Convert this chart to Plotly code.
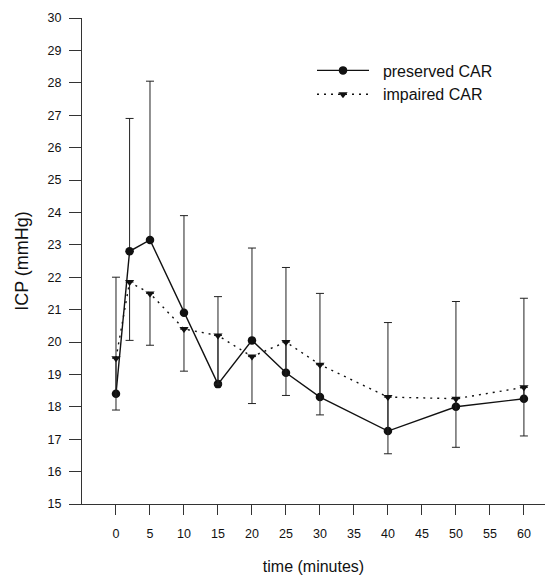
import plotly.graph_objects as go

# ICP over time for the two autoregulation groups
time_min = [0, 2, 5, 10, 15, 20, 25, 30, 40, 50, 60]

preserved_mean = [18.4, 22.8, 23.15, 20.9, 18.7, 20.05, 19.05, 18.3, 17.25, 18.0, 18.25]
preserved_err_up = [3.6, 4.1, 4.9, 3.0, 2.7, 2.85, 3.25, 3.2, 3.35, 3.25, 3.1]

impaired_mean = [19.5, 21.85, 21.5, 20.4, 20.2, 19.55, 20.0, 19.3, 18.3, 18.25, 18.6]
impaired_err_down = [1.6, 1.8, 1.6, 1.3, 1.5, 1.45, 1.65, 1.55, 1.75, 1.5, 1.5]

x_ticks = [0, 5, 10, 15, 20, 25, 30, 35, 40, 45, 50, 55, 60]
y_ticks = list(range(15, 31))

FONT = "Arial, Liberation Sans, Helvetica, sans-serif"
INK = "#111111"
NBSP = "\u00a0"

zeros = [0] * len(time_min)

fig = go.Figure()

fig.add_trace(go.Scatter(
    x=time_min, y=preserved_mean, name=NBSP * 2 + "preserved CAR",
    mode="lines+markers",
    line=dict(color=INK, width=1.4),
    marker=dict(symbol="circle", size=8.5, color=INK),
    error_y=dict(type="data", symmetric=False, array=preserved_err_up,
                 arrayminus=zeros, color="#222222", thickness=1, width=4),
))

fig.add_trace(go.Scatter(
    x=time_min, y=impaired_mean, name=NBSP * 2 + "impaired CAR",
    mode="lines+markers",
    line=dict(color=INK, width=1.4, dash="2px,5px"),
    marker=dict(symbol="triangle-down", size=8, color=INK),
    error_y=dict(type="data", symmetric=False, array=zeros,
                 arrayminus=impaired_err_down, color="#222222", thickness=1, width=4),
))

fig.update_layout(
    width=545, height=575,
    margin=dict(l=82, r=0, t=18, b=71),
    paper_bgcolor="white", plot_bgcolor="white",
    font=dict(family=FONT, color=INK),
    legend=dict(
        x=(312 - 82) / 463, y=0.927, xanchor="left", yanchor="top",
        bgcolor="rgba(0,0,0,0)", font=dict(size=16, family=FONT, color=INK),
        itemwidth=52, tracegroupgap=0,
    ),
    showlegend=True,
)

fig.update_xaxes(
    range=[-5, 63.1], tickvals=x_ticks,
    ticks="outside", ticklen=10, tickwidth=1, tickcolor="#333333",
    ticklabelstandoff=8,
    showline=True, linecolor="#333333", linewidth=1,
    showgrid=False, zeroline=False,
    tickfont=dict(size=12.5, family=FONT, color=INK),
    title=dict(text="time (minutes)", font=dict(size=16, family=FONT, color=INK), standoff=22),
)

fig.update_yaxes(
    range=[15, 30], tickvals=y_ticks,
    ticks="outside", ticklen=12, tickwidth=1, tickcolor="#333333",
    ticklabelstandoff=5,
    showline=True, linecolor="#333333", linewidth=1,
    showgrid=False, zeroline=False,
    tickfont=dict(size=12.5, family=FONT, color=INK),
    title=dict(text="ICP (mmHg)", font=dict(size=18, family=FONT, color=INK), standoff=14),
)

fig.write_html("out.html")
